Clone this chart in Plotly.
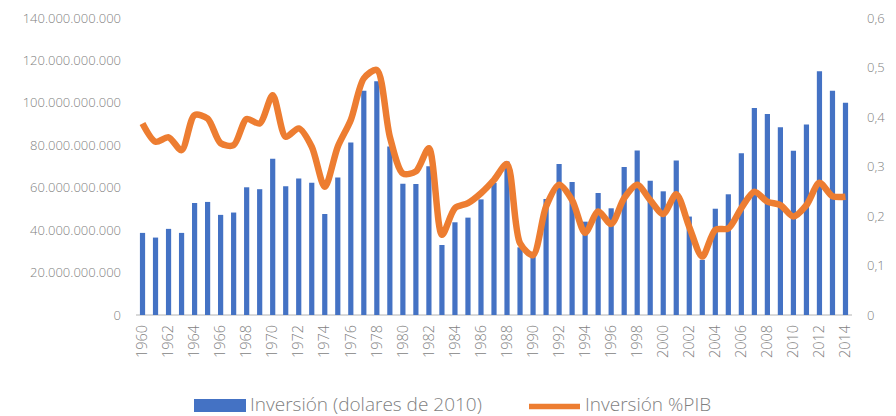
import plotly.graph_objects as go

# data
years = list(range(1960, 2015))

inversion_usd = [
    38.7e9, 36.5e9, 40.6e9, 38.7e9, 52.8e9, 53.3e9, 47.2e9, 48.3e9, 60.2e9, 59.3e9,
    73.7e9, 60.7e9, 64.3e9, 62.3e9, 47.6e9, 64.8e9, 81.3e9, 105.7e9, 110.2e9, 79.4e9,
    61.9e9, 61.8e9, 70.1e9, 33.0e9, 43.7e9, 45.9e9, 54.5e9, 62.3e9, 72.3e9, 31.9e9,
    28.0e9, 54.7e9, 71.2e9, 62.7e9, 44.0e9, 57.5e9, 50.3e9, 69.8e9, 77.6e9, 63.3e9,
    58.3e9, 72.8e9, 46.4e9, 26.0e9, 50.1e9, 56.9e9, 76.2e9, 97.6e9, 94.8e9, 88.5e9,
    77.4e9, 89.8e9, 114.9e9, 105.7e9, 100.0e9,
]

inversion_pib = [
    0.387, 0.350, 0.359, 0.333, 0.404, 0.397, 0.347, 0.343, 0.396, 0.387,
    0.444, 0.360, 0.377, 0.340, 0.259, 0.340, 0.394, 0.478, 0.495, 0.360,
    0.286, 0.290, 0.337, 0.162, 0.216, 0.226, 0.246, 0.273, 0.305, 0.145,
    0.121, 0.219, 0.263, 0.232, 0.166, 0.209, 0.184, 0.236, 0.263, 0.232,
    0.204, 0.244, 0.178, 0.118, 0.172, 0.175, 0.216, 0.249, 0.229, 0.222,
    0.199, 0.222, 0.267, 0.240, 0.239,
]

year_ticks = list(range(1960, 2015, 2))

label_usd = 'Inversión (dolares de 2010)'
label_pib = 'Inversión %PIB'

blue = '#4472C4'
orange = '#ED7D31'
grey = '#7F7F7F'
font = 'Open Sans'

W, H = 896, 416
L, R, T, B = 136, 44, 18, 101
pw, ph = W - L - R, H - T - B


def px(x):
    # pixel x -> paper x
    return (x - L) / pw


def py(y):
    # pixel y -> paper y
    return (H - B - y) / ph


fig = go.Figure()

fig.add_trace(go.Bar(
    x=years, y=inversion_usd, name=label_usd,
    marker=dict(color=blue, line=dict(width=0)), width=0.4,
))

fig.add_trace(go.Scatter(
    x=years, y=inversion_pib, name=label_pib, yaxis='y2',
    mode='lines', line=dict(color=orange, width=6.5, shape='spline', smoothing=0.8),
))

# hand-drawn legend, Excel style (wide swatches)
fig.add_shape(type='rect', xref='paper', yref='paper',
              x0=px(194), x1=px(246), y0=py(412), y1=py(399),
              fillcolor=blue, line=dict(width=0))
fig.add_shape(type='line', xref='paper', yref='paper',
              x0=px(529), x1=px(580), y0=py(406.5), y1=py(406.5),
              line=dict(color=orange, width=5.5))
for text, x in [(label_usd, 249), (label_pib, 584)]:
    fig.add_annotation(text=text, xref='paper', yref='paper', x=px(x), y=py(404),
                       xanchor='left', yanchor='middle', showarrow=False,
                       borderpad=0,
                       font=dict(size=19, color=grey, family=font, weight=300))

fig.update_layout(
    width=W, height=H,
    margin=dict(l=L, r=R, t=T, b=B, autoexpand=False),
    paper_bgcolor='white', plot_bgcolor='white',
    separators=',.',
    font=dict(family=font, color=grey, size=13),
    showlegend=False,
    xaxis=dict(
        range=[1959.5, 2014.5], tickvals=year_ticks, tickangle=-90,
        showgrid=False, zeroline=False, showline=False, ticks='',
        ticklabelstandoff=6,
        tickfont=dict(size=14.5, color=grey, weight=300),
    ),
    yaxis=dict(
        range=[0, 140e9], dtick=20e9, tickformat=',d',
        showgrid=False, zeroline=True, zerolinecolor='#D9D9D9', zerolinewidth=1.5,
        showline=False, ticks='', ticklabelstandoff=14,
        tickfont=dict(size=13, color=grey, weight=300),
    ),
    yaxis2=dict(
        range=[0, 0.6], dtick=0.1, overlaying='y', side='right',
        showgrid=False, zeroline=False, showline=False, ticks='',
        ticklabelstandoff=14,
        tickfont=dict(size=13, color=grey, weight=300),
    ),
    bargap=0.6,
)

fig.write_html('out.html', config={'displayModeBar': False},
               post_script="document.body.style.margin='0';")
